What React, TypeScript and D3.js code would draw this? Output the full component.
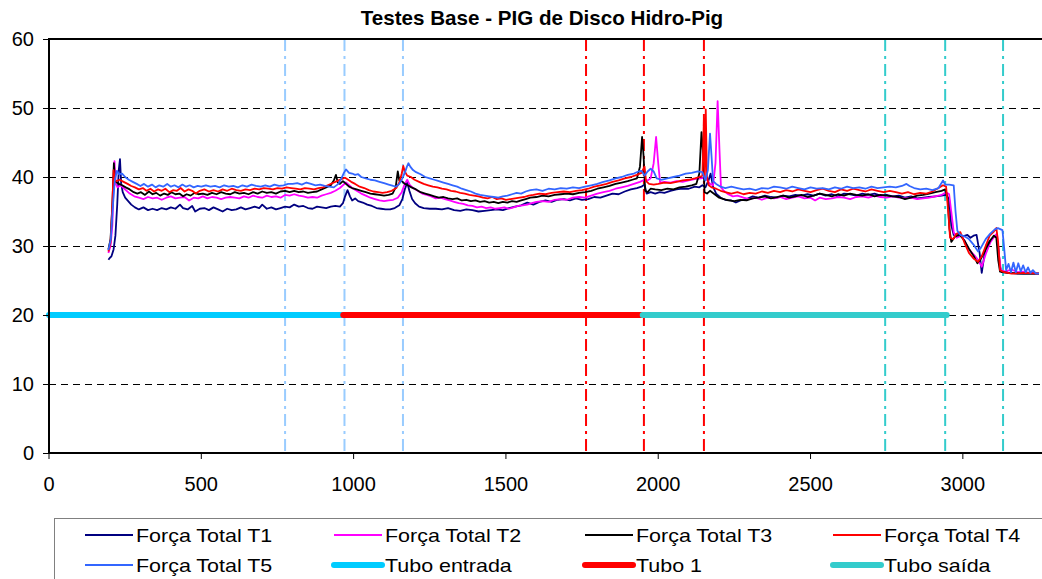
import React from "react";
import * as d3 from "d3";

type P = [number, number];

const xTicks = [0, 500, 1000, 1500, 2000, 2500, 3000];
const yTicks = [0, 10, 20, 30, 40, 50, 60];

const t1: P[] = [[195,28.0],[200,28.3],[205,28.5],[212,29.5],[218,31.5],[224,36],[229,41],[233,42.6],[237,39],[242,37.8],[250,37],[260,36.5],[270,36],[282,35.6],[295,35.3],[310,35.6],[325,35.2],[340,35.4],[355,35.2],[370,35.5],[385,35.3],[400,35.6],[415,35.4],[430,36.0],[440,35.5],[455,35.3],[470,35.8],[480,35.0],[495,35.4],[510,35.5],[525,35.2],[540,35.6],[555,35.3],[570,35.0],[585,35.4],[600,35.2],[615,35.3],[630,35.6],[645,35.3],[660,35.5],[675,35.7],[690,35.5],[700,36.0],[715,35.4],[730,35.6],[745,35.3],[760,35.5],[775,35.7],[790,35.6],[805,36.0],[820,35.7],[835,35.8],[850,35.5],[865,35.4],[880,35.7],[895,35.6],[910,35.5],[925,35.7],[940,35.8],[955,35.7],[965,36.2],[972,37.2],[980,38.1],[988,37.2],[995,36.6],[1005,36.9],[1015,36.5],[1030,36.3],[1045,36.0],[1060,35.8],[1075,35.5],[1090,35.4],[1105,35.3],[1120,35.3],[1135,35.5],[1150,35.9],[1160,36.8],[1168,38.2],[1176,39.2],[1183,38.0],[1192,36.8],[1202,36.2],[1215,35.7],[1230,35.5],[1250,35.4],[1270,35.4],[1290,35.3],[1310,35.5],[1330,35.2],[1350,35.1],[1370,35.3],[1390,35.2],[1410,35.0],[1430,35.1],[1450,35.2],[1470,35.3],[1490,35.2],[1510,35.5],[1530,35.7],[1550,35.9],[1570,36.3],[1590,36.0],[1610,36.4],[1630,36.6],[1650,36.4],[1670,36.7],[1690,36.8],[1710,36.6],[1730,36.9],[1750,36.7],[1770,36.8],[1790,37.1],[1810,37.0],[1830,37.3],[1850,37.6],[1870,37.5],[1890,37.9],[1910,38.2],[1930,38.4],[1945,38.6],[1955,38.9],[1962,37.6],[1975,37.8],[1990,37.6],[2005,37.8],[2020,37.7],[2040,38.0],[2060,38.2],[2080,38.3],[2100,38.3],[2120,38.6],[2135,38.5],[2145,38.8],[2155,38.5],[2165,39.5],[2172,40.5],[2180,38.6],[2190,37.6],[2205,37.0],[2220,36.7],[2240,36.6],[2255,36.3],[2270,36.6],[2290,36.8],[2310,37.2],[2330,37.0],[2350,37.3],[2370,37.1],[2390,37.0],[2410,37.3],[2430,37.2],[2450,37.4],[2470,37.3],[2490,37.5],[2510,37.3],[2530,37.6],[2550,37.3],[2570,37.5],[2590,37.2],[2610,37.6],[2630,37.5],[2650,37.3],[2670,37.6],[2690,37.4],[2710,37.6],[2730,37.3],[2750,37.4],[2770,37.2],[2790,37.3],[2810,37.0],[2830,37.2],[2850,36.9],[2870,37.0],[2890,37.1],[2910,37.2],[2930,37.3],[2945,37.4],[2955,36.8],[2962,33.0],[2970,31.6],[2985,31.8],[3000,31.4],[3015,31.6],[3025,31.2],[3035,31.5],[3045,31.6],[3055,29],[3062,26.1],[3070,28.5],[3078,30.2],[3090,30.8],[3102,31.3],[3110,31.5],[3116,30.0],[3122,27.0],[3128,26.2],[3150,26.1],[3180,26.0],[3210,26.0],[3250,26.0]];

const t2: P[] = [[195,29.0],[202,30],[208,33],[212,39],[215,42.3],[219,39],[225,38.5],[235,38.8],[245,38.4],[255,38],[265,37.6],[280,37.2],[295,37.0],[310,36.8],[325,37.1],[340,36.9],[355,37.0],[370,36.7],[385,37.0],[400,37.2],[415,36.9],[430,37.0],[445,37.1],[460,36.6],[475,37.0],[490,36.9],[505,37.2],[520,36.9],[535,37.1],[550,37.0],[565,36.8],[580,37.0],[595,37.1],[610,37.0],[625,36.9],[640,37.2],[655,37.0],[670,37.3],[685,37.1],[700,37.0],[715,37.3],[730,37.1],[745,37.2],[760,37.0],[775,37.4],[790,37.3],[805,37.5],[820,37.3],[835,37.2],[850,37.0],[865,37.1],[880,37.0],[895,37.3],[910,37.5],[925,37.7],[940,38.0],[955,38.4],[965,38.8],[975,39.2],[985,38.8],[995,38.4],[1010,38.0],[1025,37.6],[1040,37.3],[1055,37.0],[1070,36.8],[1085,36.6],[1100,36.5],[1115,36.6],[1130,36.7],[1145,37.0],[1158,37.8],[1168,39.0],[1176,39.6],[1185,38.8],[1195,38.4],[1210,38.0],[1225,37.6],[1240,37.4],[1255,37.2],[1270,36.9],[1285,37.0],[1300,36.8],[1315,36.6],[1330,36.4],[1345,36.2],[1360,36.1],[1375,35.9],[1390,35.8],[1405,35.6],[1420,35.7],[1435,35.5],[1450,35.6],[1465,35.4],[1480,35.5],[1495,35.6],[1510,35.4],[1525,35.6],[1540,35.8],[1555,35.9],[1570,36.0],[1585,36.2],[1600,36.4],[1620,36.5],[1640,36.4],[1660,36.7],[1680,36.8],[1700,36.7],[1720,37.0],[1740,37.1],[1760,37.0],[1780,37.3],[1800,37.6],[1820,37.8],[1840,38.0],[1860,38.3],[1880,38.5],[1900,38.7],[1920,39.0],[1940,39.3],[1955,39.6],[1965,39.5],[1975,39.8],[1985,42],[1993,45.8],[2000,42],[2006,39.2],[2020,39.3],[2040,39.2],[2060,39.4],[2080,39.3],[2100,39.5],[2120,39.7],[2140,39.8],[2155,39.9],[2170,39.0],[2180,38.8],[2188,42],[2195,51.0],[2201,44],[2206,38.5],[2215,38.0],[2230,37.5],[2245,37.2],[2260,37.3],[2280,37.0],[2300,36.8],[2320,37.0],[2340,36.7],[2360,37.0],[2380,36.9],[2400,37.1],[2420,36.8],[2440,37.0],[2460,37.2],[2480,36.9],[2500,37.0],[2515,36.6],[2530,37.0],[2550,36.8],[2570,36.9],[2590,37.1],[2610,37.0],[2630,36.8],[2650,37.1],[2670,37.2],[2690,37.0],[2710,37.3],[2730,37.1],[2750,37.0],[2770,37.2],[2790,37.0],[2810,36.9],[2830,37.0],[2850,36.8],[2870,36.9],[2890,37.0],[2910,37.2],[2930,37.4],[2945,37.8],[2955,37.5],[2962,35],[2970,32.0],[2980,31.2],[2995,31.5],[3005,30.8],[3020,29.5],[3035,28.8],[3050,28.0],[3062,27.0],[3075,28.8],[3090,30.5],[3105,31.5],[3112,31.8],[3118,29],[3125,26.5],[3140,26.3],[3160,26.6],[3180,26.2],[3200,26.3],[3220,26.1],[3250,26.0]];

const t3: P[] = [[195,29.5],[202,31],[208,36],[213,42.0],[217,39.5],[222,39.2],[230,39.0],[240,38.8],[252,38.5],[265,38.2],[278,37.8],[290,37.6],[302,37.8],[315,37.4],[328,37.9],[340,37.5],[352,37.7],[365,37.3],[378,37.6],[390,37.4],[402,37.8],[415,37.5],[428,37.6],[440,37.2],[452,37.5],[465,37.3],[478,37.7],[490,37.5],[505,37.6],[520,37.4],[535,37.7],[550,37.5],[565,37.8],[580,37.6],[595,37.5],[610,37.8],[625,37.6],[640,37.7],[655,37.5],[670,37.8],[685,37.6],[700,37.9],[715,37.7],[730,37.8],[745,37.6],[760,37.9],[775,38.0],[790,37.8],[805,38.0],[820,37.8],[835,37.9],[850,37.7],[865,37.8],[880,37.9],[895,38.2],[910,38.5],[925,38.8],[935,39.5],[942,40.3],[948,39.2],[955,39.0],[965,39.4],[975,39.0],[985,38.6],[995,38.4],[1010,38.2],[1025,38.0],[1040,37.8],[1055,37.6],[1070,37.5],[1085,37.4],[1100,37.3],[1115,37.4],[1128,37.6],[1138,38.5],[1145,40.8],[1150,39.5],[1158,39.4],[1168,39.0],[1178,38.8],[1190,38.5],[1205,38.2],[1220,37.8],[1235,37.6],[1250,37.4],[1265,37.2],[1280,37.0],[1295,37.1],[1310,36.9],[1325,36.8],[1340,36.9],[1355,36.6],[1370,36.7],[1385,36.5],[1400,36.6],[1415,36.4],[1430,36.5],[1445,36.3],[1460,36.4],[1475,36.2],[1490,36.4],[1505,36.3],[1520,36.5],[1535,36.4],[1550,36.6],[1565,36.8],[1580,37.0],[1600,37.1],[1620,37.3],[1640,37.2],[1660,37.4],[1680,37.5],[1700,37.6],[1720,37.5],[1740,37.7],[1760,37.8],[1780,38.0],[1800,38.3],[1820,38.5],[1840,38.7],[1860,39.0],[1880,39.2],[1900,39.4],[1915,39.6],[1930,39.8],[1940,41.5],[1947,45.8],[1952,43],[1957,38.0],[1965,37.8],[1975,38.3],[1990,38.2],[2010,38.1],[2030,38.3],[2050,38.2],[2070,38.5],[2090,38.6],[2110,38.8],[2125,39.0],[2135,40.5],[2142,46.5],[2148,43],[2152,37.8],[2160,37.6],[2170,38.0],[2185,37.5],[2200,37.0],[2215,36.8],[2230,36.6],[2250,36.5],[2270,36.7],[2290,36.6],[2310,36.9],[2330,37.0],[2350,37.2],[2370,36.9],[2390,37.1],[2410,37.3],[2430,37.0],[2450,37.2],[2470,37.4],[2490,37.1],[2510,37.3],[2530,37.6],[2550,37.4],[2570,37.2],[2590,37.5],[2610,37.3],[2630,37.6],[2650,37.4],[2670,37.3],[2690,37.5],[2710,37.2],[2730,37.4],[2750,37.3],[2770,37.2],[2790,37.1],[2810,36.8],[2830,37.0],[2850,37.3],[2870,37.4],[2890,37.6],[2910,37.8],[2930,38.0],[2942,38.2],[2950,37.0],[2956,32.5],[2962,30.6],[2975,31.4],[2990,31.6],[3005,30.8],[3020,29.6],[3035,28.6],[3048,27.5],[3060,28.2],[3075,29.5],[3090,30.8],[3102,31.5],[3110,31.2],[3116,28],[3122,26.3],[3150,26.1],[3200,26.0],[3250,26.0]];

const t4: P[] = [[195,29.2],[202,30.5],[207,35],[212,41.0],[216,39.6],[222,39.4],[232,39.6],[245,39.3],[258,39.0],[270,38.7],[282,38.5],[295,38.2],[308,38.4],[320,38.0],[333,38.3],[345,37.9],[358,38.2],[370,38.0],[382,38.3],[395,37.8],[408,38.1],[420,38.0],[432,38.4],[445,37.9],[458,38.2],[470,38.0],[482,37.6],[495,38.0],[510,38.2],[525,37.9],[540,38.1],[555,37.9],[570,38.2],[585,38.0],[600,38.3],[615,38.1],[630,38.0],[645,38.2],[660,38.1],[675,38.3],[690,38.2],[705,38.4],[720,38.3],[735,38.2],[750,38.4],[765,38.3],[780,38.5],[795,38.4],[810,38.3],[825,38.2],[840,38.4],[855,38.3],[870,38.2],[885,38.4],[900,38.5],[915,38.8],[930,39.1],[945,39.4],[960,39.7],[972,39.9],[982,39.6],[992,39.3],[1005,39.0],[1020,38.6],[1035,38.4],[1050,38.1],[1065,37.9],[1080,37.8],[1095,37.7],[1110,37.8],[1125,38.0],[1140,38.4],[1150,39.2],[1158,40.5],[1163,41.6],[1168,40.8],[1176,40.2],[1188,40.0],[1200,39.6],[1215,39.3],[1230,39.0],[1245,38.8],[1260,38.6],[1275,38.5],[1290,38.3],[1305,38.2],[1320,38.0],[1335,37.9],[1350,37.7],[1365,37.6],[1380,37.4],[1395,37.3],[1410,37.2],[1425,37.0],[1440,36.9],[1455,37.1],[1470,36.8],[1485,36.9],[1500,36.7],[1515,36.8],[1530,36.9],[1545,37.0],[1560,37.1],[1575,37.3],[1590,37.4],[1610,37.6],[1630,37.5],[1650,37.7],[1670,37.8],[1690,37.9],[1710,37.8],[1730,38.0],[1750,38.1],[1770,38.3],[1790,38.6],[1810,38.8],[1830,39.0],[1850,39.3],[1870,39.5],[1890,39.8],[1910,40.0],[1930,40.3],[1945,40.6],[1955,41.5],[1960,39.4],[1970,39.0],[1985,38.9],[2000,39.0],[2020,39.2],[2040,39.1],[2060,39.3],[2080,39.5],[2100,39.6],[2120,39.8],[2135,40.0],[2145,40.2],[2150,48.5],[2153,40],[2156,49.8],[2160,40],[2166,38.8],[2175,38.5],[2190,38.3],[2205,38.0],[2220,37.8],[2240,37.6],[2260,37.8],[2280,37.5],[2300,37.7],[2320,37.6],[2340,37.9],[2360,37.7],[2380,38.0],[2400,37.8],[2420,38.1],[2440,37.9],[2460,38.2],[2480,38.0],[2500,37.8],[2520,38.1],[2540,38.3],[2560,38.0],[2580,37.8],[2600,38.2],[2620,38.0],[2640,38.3],[2660,38.1],[2680,37.9],[2700,38.2],[2720,38.0],[2740,37.8],[2760,38.0],[2780,37.8],[2800,37.6],[2820,37.8],[2840,37.5],[2860,37.7],[2880,37.6],[2900,37.9],[2920,38.4],[2935,38.8],[2945,38.6],[2952,35],[2958,31.2],[2968,31.0],[2980,31.8],[2992,32.0],[3005,30.5],[3020,29.0],[3035,28.2],[3050,27.7],[3062,28.5],[3075,30.0],[3088,31.5],[3100,32.0],[3110,32.6],[3116,30.5],[3122,26.5],[3135,26.2],[3160,26.0],[3200,26.1],[3250,26.0]];

const t5: P[] = [[195,29.4],[203,31],[210,36],[216,39.5],[223,40.9],[230,40.4],[240,40.5],[250,40.0],[262,39.6],[275,39.3],[288,39.0],[300,38.7],[312,39.0],[325,38.6],[338,38.9],[350,38.5],[362,38.8],[375,38.6],[388,39.0],[400,38.6],[412,38.8],[425,38.5],[438,38.9],[450,38.6],[462,38.8],[475,38.5],[488,38.7],[500,38.6],[515,38.8],[530,38.6],[545,38.7],[560,38.5],[575,38.8],[590,38.6],[605,38.7],[620,38.5],[635,38.8],[650,38.6],[665,38.9],[680,38.7],[695,38.6],[710,38.8],[725,38.6],[740,38.9],[755,38.7],[770,38.8],[785,39.0],[800,39.0],[815,39.1],[830,38.9],[845,39.2],[860,39.0],[875,38.8],[890,38.9],[905,38.7],[920,38.6],[935,38.5],[950,39.0],[960,39.8],[968,40.6],[975,41.1],[985,40.6],[995,40.5],[1005,40.3],[1015,40.4],[1025,40.0],[1040,39.8],[1055,39.6],[1070,39.5],[1085,39.3],[1100,39.1],[1115,38.9],[1130,38.7],[1140,38.6],[1150,39.0],[1160,39.8],[1168,40.6],[1175,41.5],[1180,42.0],[1186,41.5],[1195,41.0],[1205,40.7],[1220,40.4],[1235,40.0],[1250,39.8],[1265,39.6],[1280,39.4],[1295,39.2],[1310,39.0],[1325,38.8],[1340,38.6],[1355,38.3],[1370,38.1],[1385,37.9],[1400,37.6],[1415,37.4],[1430,37.3],[1445,37.2],[1460,37.1],[1475,37.0],[1490,37.2],[1505,37.3],[1520,37.5],[1535,37.7],[1550,37.6],[1565,37.9],[1580,38.1],[1600,38.2],[1620,38.0],[1640,38.3],[1660,38.2],[1680,38.4],[1700,38.3],[1720,38.5],[1740,38.4],[1760,38.6],[1780,38.8],[1800,39.0],[1820,39.3],[1840,39.5],[1860,39.8],[1880,40.0],[1900,40.3],[1920,40.5],[1935,40.8],[1945,40.9],[1955,40.2],[1965,40.8],[1975,41.2],[1985,40.8],[1995,39.8],[2010,39.6],[2030,39.8],[2050,40.0],[2070,40.2],[2090,40.5],[2110,40.6],[2130,40.8],[2145,40.7],[2155,39.5],[2163,41],[2170,46.3],[2175,43],[2180,39.4],[2190,39.0],[2205,38.6],[2220,38.4],[2240,38.6],[2260,38.4],[2280,38.2],[2300,38.3],[2320,38.1],[2340,38.4],[2360,38.3],[2380,38.6],[2400,38.5],[2420,38.3],[2440,38.6],[2460,38.4],[2480,38.2],[2500,38.5],[2520,38.3],[2540,38.4],[2560,38.2],[2580,38.5],[2600,38.3],[2620,38.6],[2640,38.4],[2660,38.5],[2680,38.3],[2700,38.6],[2720,38.4],[2740,38.5],[2760,38.6],[2780,38.5],[2800,38.7],[2815,39.0],[2825,38.7],[2840,38.4],[2860,38.2],[2880,38.3],[2900,38.1],[2920,38.4],[2935,39.5],[2942,38.9],[2955,38.9],[2970,38.8],[2976,35],[2982,32.2],[2992,31.6],[3005,31.4],[3020,31.0],[3035,30.2],[3050,29.2],[3060,29.8],[3075,31.0],[3090,31.8],[3105,32.4],[3115,32.6],[3130,32.3],[3136,29.5],[3142,26.5],[3150,27.4],[3158,26.2],[3166,27.6],[3174,26.2],[3182,27.5],[3190,26.3],[3198,27.2],[3206,26.2],[3214,26.9],[3222,26.1],[3230,26.5],[3240,26.0],[3250,26.0]];

// Tube segments at level 20: [start, end]
const tuboEntrada: P = [0, 966];
const tubo1: P = [966, 1949];
const tuboSaida: P = [1949, 2947];
const tuboLevel = 20;

// vertical dash-dot markers
const entradaMarks = [775, 970, 1162];
const tubo1Marks = [1763, 1953, 2150];
const saidaMarks = [2745, 2942, 3132];

const title = "Testes Base - PIG de Disco Hidro-Pig";

const seriesDefs = [
  { name: "Força Total T1", data: t1, color: "#000080" },
  { name: "Força Total T2", data: t2, color: "#FF00FF" },
  { name: "Força Total T3", data: t3, color: "#000000" },
  { name: "Força Total T4", data: t4, color: "#FF0000" },
  { name: "Força Total T5", data: t5, color: "#3366FF" },
];

const tubeDefs = [
  { name: "Tubo entrada", seg: tuboEntrada, color: "#00CCFF", marks: entradaMarks, markColor: "#99CCFF" },
  { name: "Tubo 1", seg: tubo1, color: "#FF0000", marks: tubo1Marks, markColor: "#FF0000" },
  { name: "Tubo saída", seg: tuboSaida, color: "#33CCCC", marks: saidaMarks, markColor: "#33CCCC" },
];

const FONT = "'Liberation Sans', Arial, sans-serif";

export default function App() {
  const W = 1042, H = 579;
  const x = d3.scaleLinear().domain([0, 3250]).range([49, 1039]);
  const y = d3.scaleLinear().domain([0, 60]).range([453, 39]);
  const line = d3.line<P>().x(d => x(d[0])).y(d => y(d[1]));

  const legendItems = [
    ...seriesDefs.map(s => ({ name: s.name, color: s.color, w: 2 })),
    ...tubeDefs.map(t => ({ name: t.name, color: t.color, w: 6 })),
  ];
  const colX = [85, 334, 585, 833];
  const rowY = [535, 565];

  return (
    <svg width={W} height={H} style={{ position: "absolute", left: 0, top: 0, background: "#fff" }} fontFamily={FONT}>
      <rect x={0} y={0} width={W} height={H} fill="#fff" />
      <text x={542} y={25} textAnchor="middle" fontWeight="bold" fontSize={20.6}>{title}</text>

      {/* gridlines */}
      {yTicks.filter(t => t > 0 && t < 60).map(t => (
        <line key={"g" + t} x1={x(0)} x2={W} y1={y(t) + 0.5} y2={y(t) + 0.5} stroke="#000" strokeWidth={1} strokeDasharray="7,5" />
      ))}

      {/* vertical markers */}
      {tubeDefs.map(t => t.marks.map(m => (
        <line key={t.name + m} x1={x(m)} x2={x(m)} y1={y(60)} y2={y(0)} stroke={t.markColor} strokeWidth={2} strokeDasharray="12,5,3,5" />
      )))}

      {/* series */}
      {seriesDefs.map(s => (
        <path key={s.name} d={line(s.data) || ""} fill="none" stroke={s.color} strokeWidth={1.8} strokeLinejoin="round" />
      ))}

      {/* tubes */}
      {tubeDefs.map(t => (
        <line key={"tb" + t.name} x1={x(t.seg[0])} x2={x(t.seg[1])} y1={y(tuboLevel)} y2={y(tuboLevel)} stroke={t.color} strokeWidth={6} strokeLinecap="round" />
      ))}

      {/* axes */}
      <line x1={x(0)} x2={W} y1={y(60)} y2={y(60)} stroke="#000" strokeWidth={2} />
      <line x1={x(0)} x2={x(0)} y1={y(60) - 1} y2={y(0) + 1} stroke="#000" strokeWidth={2} />
      <line x1={x(0) - 1} x2={W} y1={y(0)} y2={y(0)} stroke="#000" strokeWidth={2} />
      {yTicks.map(t => (
        <g key={"yt" + t}>
          <line x1={x(0) - 6} x2={x(0)} y1={y(t) + 0.5} y2={y(t) + 0.5} stroke="#000" strokeWidth={1} />
          <text x={34} y={y(t)} dy="0.36em" textAnchor="end" fontSize={20}>{t}</text>
        </g>
      ))}
      {xTicks.map(t => (
        <g key={"xt" + t}>
          <line x1={x(t)} x2={x(t)} y1={y(0)} y2={y(0) + 6} stroke="#000" strokeWidth={1} />
          <text x={x(t)} y={491} textAnchor="middle" fontSize={20}>{t}</text>
        </g>
      ))}

      {/* legend */}
      <rect x={54.5} y={518.5} width={1000} height={80} fill="#fff" stroke="#808080" strokeWidth={1} />
      {legendItems.map((it, i) => {
        const cx = colX[i % 4];
        const cy = rowY[Math.floor(i / 4)];
        return (
          <g key={"lg" + it.name}>
            <line x1={cx} x2={cx + 48} y1={cy} y2={cy} stroke={it.color} strokeWidth={it.w} strokeLinecap={it.w > 3 ? "round" : "butt"} />
            <text transform={`translate(${cx + 51},${cy}) scale(1.16,1)`} dy="0.36em" fontSize={18.5}>{it.name}</text>
          </g>
        );
      })}
    </svg>
  );
}
